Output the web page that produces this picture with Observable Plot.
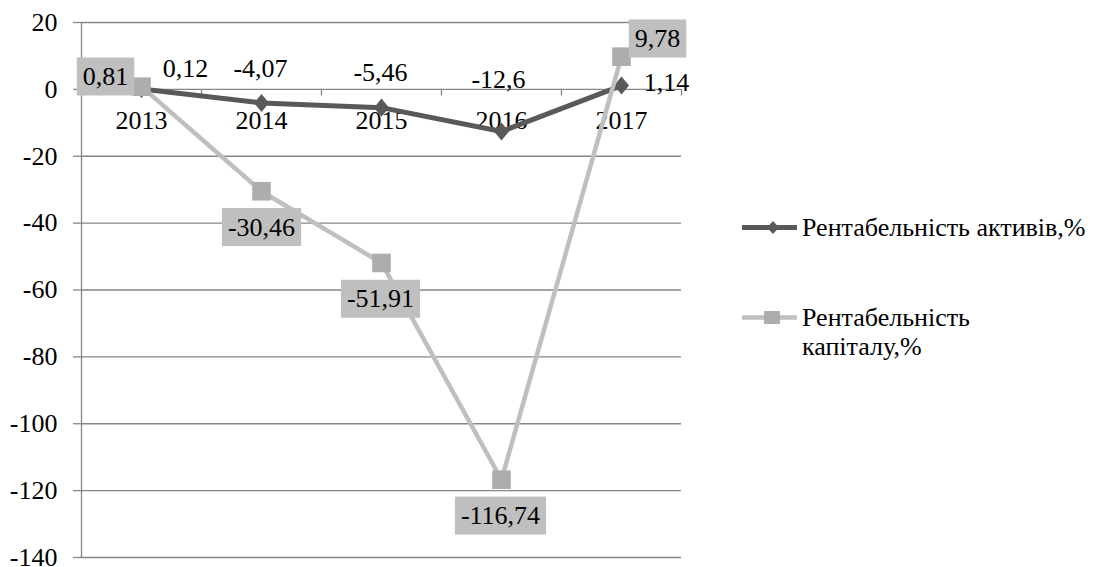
<!DOCTYPE html>
<html><head><meta charset="utf-8">
<script src="https://cdn.jsdelivr.net/npm/d3@7"></script>
<script src="https://cdn.jsdelivr.net/npm/@observablehq/plot@0.6"></script>
<style>
html,body{margin:0;padding:0;background:#fff;}
#wrap{position:relative;width:1098px;height:567px;overflow:hidden;font-family:"Liberation Serif","Times New Roman",serif;}
#wrap svg{display:block;}
.item{position:absolute;left:742px;display:flex;align-items:flex-start;font-size:26px;line-height:29px;color:#000;}
.item svg{flex:none;}
.item span{display:block;margin-left:5px;}
</style>
</head><body>
<div id="wrap"></div>
<script>
const years = ["2013", "2014", "2015", "2016", "2017"];
const roa = [0.12, -4.07, -5.46, -12.6, 1.14];
const roe = [0.81, -30.46, -51.91, -116.74, 9.78];
const seriesNames = ["Рентабельність активів,%", "Рентабельність капіталу,%"];
const yTicks = [20, 0, -20, -40, -60, -80, -100, -120, -140];

const idx = years.map((_, i) => i);
const fmt = v => String(v).replace(".", ",");
const diamond = {draw(ctx, size) {
  const s = Math.sqrt(size);
  ctx.moveTo(0, -0.6 * s); ctx.lineTo(0.5 * s, 0); ctx.lineTo(0, 0.6 * s); ctx.lineTo(-0.5 * s, 0); ctx.closePath();
}};
const darkC = "#595959", lightC = "#BFBFBF", sqC = "#ADADAD", gridC = "#868686";
const FS = 26;
const off1 = [[44, -20], [-1, -34], [-1, -35], [-3, -52], [45, -3]];
const off2 = [[-36, -10], [0, 36], [-1, 36], [-1, 36], [36, -18]];

const plot = Plot.plot({
  width: 1098, height: 567,
  marginLeft: 81, marginRight: 417, marginTop: 22, marginBottom: 10,
  x: {type: "linear", domain: [-0.5, years.length - 0.5], axis: null},
  y: {domain: [-140, 20], axis: null},
  style: {fontFamily: "'Liberation Serif', 'Times New Roman', serif", fontSize: FS + "px", color: "black", background: "white", overflow: "visible"},
  marks: [
    Plot.gridY(yTicks, {stroke: gridC, strokeOpacity: 1, strokeWidth: 1.3}),
    Plot.axisY(yTicks, {tickSize: 8, tickPadding: 16, stroke: gridC, strokeWidth: 1.3, strokeOpacity: 1, fill: "black", tickFormat: d => String(d), fontSize: FS}),
    Plot.ruleX([-0.5], {stroke: gridC, strokeWidth: 1.3}),
    Plot.ruleX(idx.map(i => i + 0.5), {y1: 0, y2: -2, stroke: gridC, strokeWidth: 1.3}),
    Plot.text(years, {x: (d, i) => i, y: 0, dy: 31, text: d => d, fill: "black", fontSize: FS}),
    Plot.line(idx, {x: i => i, y: i => roa[i], stroke: darkC, strokeWidth: 5}),
    Plot.dot(idx, {x: i => i, y: i => roa[i], symbol: diamond, r: 8.5, fill: darkC, stroke: null}),
    Plot.line(idx, {x: i => i, y: i => roe[i], stroke: lightC, strokeWidth: 4.5}),
    Plot.dot(idx, {x: i => i, y: i => roe[i], symbol: "square", r: 10.5, fill: sqC, stroke: null}),
    ...idx.map(i => Plot.text([i], {x: d => d, y: d => roa[d], text: d => fmt(roa[d]), dx: off1[i][0], dy: off1[i][1], fill: "black", fontSize: FS})),
    ...idx.map(i => Plot.text([i], {x: d => d, y: d => roe[d], text: d => fmt(roe[d]), dx: off2[i][0], dy: off2[i][1], fill: "black", fontSize: FS}))
  ]
});
const wrap = document.getElementById("wrap");
wrap.appendChild(plot);

// gray background boxes behind the capital-return labels
const roeLabels = new Set(roe.map(fmt));
plot.querySelectorAll("text").forEach(t => {
  if (!roeLabels.has(t.textContent)) return;
  const b = t.getBBox();
  const padX = 6, padY = 4.5;
  const r = document.createElementNS("http://www.w3.org/2000/svg", "rect");
  r.setAttribute("x", b.x - padX);
  r.setAttribute("y", b.y - padY);
  r.setAttribute("width", b.width + 2 * padX);
  r.setAttribute("height", b.height + 2 * padY);
  r.setAttribute("fill", lightC);
  r.setAttribute("stroke", "none");
  const tr = t.getAttribute("transform");
  if (tr) r.setAttribute("transform", tr);
  t.parentNode.insertBefore(r, t);
});

// legend
function swatch(color, kind) {
  const ns = "http://www.w3.org/2000/svg";
  const s = document.createElementNS(ns, "svg");
  s.setAttribute("width", 55); s.setAttribute("height", 29);
  const l = document.createElementNS(ns, "line");
  l.setAttribute("x1", 0); l.setAttribute("x2", 55); l.setAttribute("y1", 14.5); l.setAttribute("y2", 14.5);
  l.setAttribute("stroke", color); l.setAttribute("stroke-width", kind === "diamond" ? 5 : 4.5);
  l.setAttribute("stroke-linecap", "round");
  s.appendChild(l);
  const p = document.createElementNS(ns, "path");
  if (kind === "diamond") { p.setAttribute("d", "M31,8L37,14.5L31,21L25,14.5Z"); p.setAttribute("fill", darkC); }
  else { p.setAttribute("d", "M22,8H38V21H22Z"); p.setAttribute("fill", sqC); }
  s.appendChild(p);
  return s;
}
[[seriesNames[0], darkC, "diamond", 212.5, 300], [seriesNames[1], lightC, "square", 302.5, 200]].forEach(([name, c, k, top, w]) => {
  const d = document.createElement("div");
  d.className = "item"; d.style.top = top + "px";
  d.appendChild(swatch(c, k));
  const sp = document.createElement("span"); sp.textContent = name; sp.style.width = w + "px";
  d.appendChild(sp);
  wrap.appendChild(d);
});
</script>
</body></html>
